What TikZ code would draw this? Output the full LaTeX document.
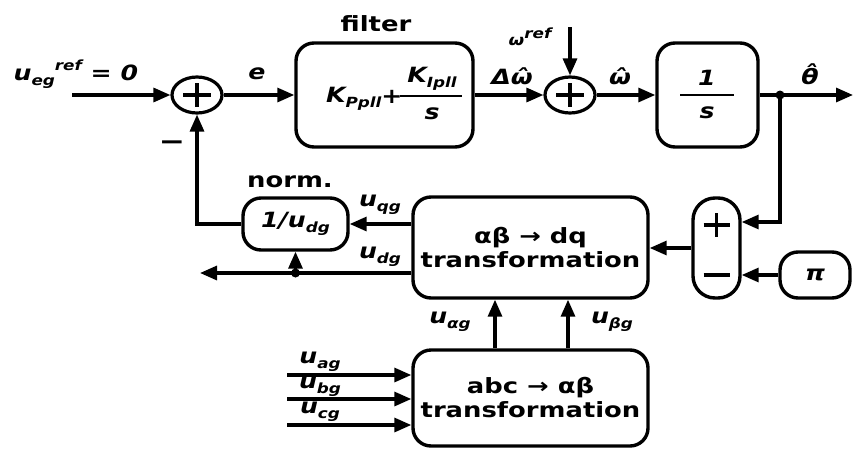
\documentclass[tikz,border=0pt]{standalone}
\usepackage{fontspec}
\setmainfont{DejaVu Sans}
\usetikzlibrary{arrows.meta,shapes.geometric,calc}
\newcommand\W[1]{\scalebox{1.2}[1]{#1}}
\newcommand\WT[1]{\scalebox{1.23}[1]{#1}}
\newcommand\lsub[1]{\raisebox{-0.45ex}{\fontsize{14}{14}\selectfont #1}}
\newcommand\lsup[1]{\raisebox{0.9ex}{\fontsize{14}{14}\selectfont #1}}
\begin{document}
\begin{tikzpicture}[x=1pt,y=-1pt,line width=3.2pt,
  blk/.style={draw, rounded corners=18pt, line width=3.4pt, inner sep=0pt, align=center},
  sumj/.style={draw, ellipse, minimum width=50pt, minimum height=36pt, line width=3.2pt, inner sep=0pt},
  arr/.style={-{Triangle[length=17pt,width=14pt]}, line width=3.2pt},
  lbl/.style={font=\fontsize{21}{21}\selectfont\bfseries\itshape, inner sep=0pt},
  ttl/.style={font=\fontsize{21}{24}\selectfont\bfseries, align=center, inner sep=0pt}]
\useasboundingbox (0,0) rectangle (853,450);
% blocks
\node[sumj] (s1) at (197,95) {};
\node[sumj] (s2) at (570,95) {};
\node[blk, minimum width=177pt, minimum height=104pt] (filter) at (384.5,95) {};
\node[blk, minimum width=101pt, minimum height=104pt] (integ) at (707.5,95) {};
\node[blk, rounded corners=22pt, minimum width=47pt, minimum height=100pt] (pm) at (716.5,248) {};
\node[blk, minimum width=70pt, minimum height=46pt, font=\fontsize{21}{21}\selectfont\bfseries\itshape] (pi) at (815,275) {\W{π}};
\node[blk, minimum width=235pt, minimum height=101pt, ttl] (dq) at (530.5,247.5) {\WT{αβ → dq}\\\WT{transformation}};
\node[blk, minimum width=235pt, minimum height=96pt, ttl] (abc) at (530.5,398) {\WT{abc → αβ}\\\WT{transformation}};
\node[blk, minimum width=105pt, minimum height=52pt, lbl] (norm) at (295.5,224) {\W{1/u\lsub{dg}}};
% plus signs
\foreach \s in {s1,s2}{
  \draw ($(\s.center)+(-14,0)$) -- ($(\s.center)+(14,0)$);
  \draw ($(\s.center)+(0,-12)$) -- ($(\s.center)+(0,12)$);
}
\draw ($(pm.center)+(-13,-23)$) -- ($(pm.center)+(13,-23)$);
\draw ($(pm.center)+(0,-35)$) -- ($(pm.center)+(0,-11)$);
\draw ($(pm.center)+(-13,27)$) -- ($(pm.center)+(13,27)$);
% filter content
\node[lbl, anchor=east] (kp) at (383,99) {\W{K\lsub{Ppll}}};
\node[lbl, font=\fontsize{21}{21}\selectfont\bfseries] (plus) at (392,97) {\W{+}};
\draw[line width=2.6pt] (400,96) -- (462,96);
\node[lbl] (ki) at (432,79) {\W{K\lsub{Ipll}}};
\node[lbl] (fs) at (432,114) {\W{s}};
% integrator content
\draw[line width=2.6pt] (680,95) -- (734,95);
\node[lbl] (one) at (707,78) {\W{1}};
\node[lbl] (is) at (707,113) {\W{s}};
% coordinates
\coordinate (in1) at (72,95);
\coordinate (wref) at (570,27);
\coordinate (out) at (853,95);
\coordinate (j) at (780,95);
\coordinate (dgout) at (200,273);
\coordinate (ia) at (287,375);
\coordinate (ib) at (287,399);
\coordinate (ic) at (287,425);
% connectors
\draw[arr] (in1) -- (s1.west);
\draw[arr] (s1.east) -- (filter.west);
\draw[arr] (filter.east) -- (s2.west);
\draw[arr] (wref) -- (s2.north);
\draw[arr] (s2.east) -- (integ.west);
\draw[arr] (integ.east) -- (out);
\fill (j) circle (4.5pt);
\draw[arr] (j) |- ([yshift=26pt]pm.east);
\draw[arr] (pi.west) -- (pi.west -| pm.east);
\draw[arr] (pm.west) -- (pm.west -| dq.east);
\draw[arr] (dq.west |- norm.east) -- (norm.east);
\draw[arr] (norm.west) -| (s1.south);
\draw[arr] ([yshift=-25.5pt]dq.west) -- (dgout);
\coordinate (jd) at (norm.south |- dgout);
\fill (jd) circle (4.5pt);
\draw[arr] (jd) -- (norm.south);
\draw[arr] ([xshift=-35.5pt]abc.north) -- ([xshift=-35.5pt]dq.south);
\draw[arr] ([xshift=37.5pt]abc.north) -- ([xshift=37.5pt]dq.south);
\draw[arr] (ia) -- (abc.west |- ia);
\draw[arr] (ib) -- (abc.west |- ib);
\draw[arr] (ic) -- (abc.west |- ic);
% labels
\node[lbl, anchor=west] (luref) at (12,74) {\W{u\lsub{eg}\lsup{ref} = 0}};
\node[lbl] (le) at (257,74) {\W{e}};
\node[ttl] (lfilter) at (376,24) {\WT{filter}};
\node[lbl] (ldw) at (512,76) {\W{Δω̂}};
\node[lbl, font=\fontsize{15}{15}\selectfont\bfseries\itshape] (lwref) at (530,37) {\W{ω\lsup{ref}}};
\node[lbl] (lw) at (620,76) {\W{ω̂}};
\node[lbl] (lth) at (810,74) {\W{θ̂}};
\node[ttl, font=\fontsize{26}{26}\selectfont\bfseries] (lminus) at (172,146) {\W{−}};
\node[ttl] (lnorm) at (290,182) {\WT{norm.}};
\node[lbl] (lqg) at (380,205) {\W{u\lsub{qg}}};
\node[lbl] (ldg) at (380,257) {\W{u\lsub{dg}}};
\node[lbl] (lag) at (450,322) {\W{u\lsub{αg}}};
\node[lbl] (lbg) at (612,322) {\W{u\lsub{βg}}};
\node[lbl] (la) at (320,362) {\W{u\lsub{ag}}};
\node[lbl] (lb) at (320,387) {\W{u\lsub{bg}}};
\node[lbl] (lc) at (320,412) {\W{u\lsub{cg}}};
\end{tikzpicture}
\end{document}
